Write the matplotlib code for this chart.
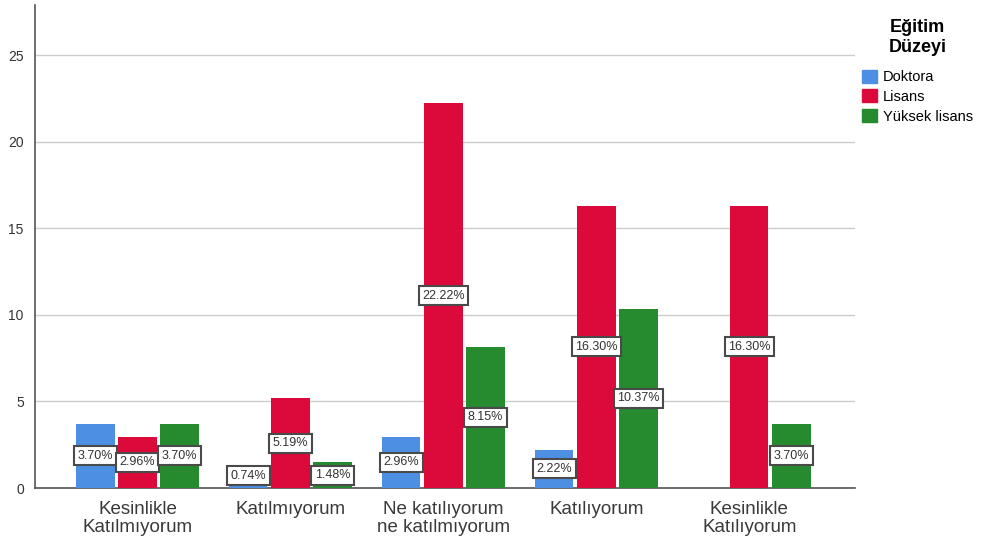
import numpy as np
import matplotlib.pyplot as plt
from matplotlib.patches import Patch

plt.rcParams['font.family'] = ['Liberation Sans', 'DejaVu Sans']

# ===== data =====
categories = ['Kesinlikle\nKatılmıyorum', 'Katılmıyorum', 'Ne katılıyorum\nne katılmıyorum',
              'Katılıyorum', 'Kesinlikle\nKatılıyorum']
series_names = ['Doktora', 'Lisans', 'Yüksek lisans']
doktora = [3.70, 0.74, 2.96, 2.22, 0.0]
lisans = [2.96, 5.19, 22.22, 16.30, 16.30]
yuksek = [3.70, 1.48, 8.15, 10.37, 3.70]
colors = ['#4C8FE3', '#DC0A3A', '#268A2E']

fig = plt.figure(figsize=(9.82, 5.39), dpi=100)
ax = fig.add_axes([0.0356, 0.0946, 0.835, 0.896])

x = np.arange(len(categories))
width = 0.25
offsets = [-0.275, 0.0, 0.275]
for vals, off, col in zip([doktora, lisans, yuksek], offsets, colors):
    ax.bar(x + off, vals, width, color=col, zorder=3)
    for xi, v in zip(x, vals):
        if v <= 0:
            continue
        ax.text(xi + off, max(v / 2, 0.72), '%.2f%%' % v, ha='center', va='center',
                fontsize=9, color='#333333', zorder=4,
                bbox=dict(boxstyle='square,pad=0.28', fc='white', ec='#4a4a4a', lw=1.5))

ax.set_xlim(-0.67, 4.69)
ax.set_ylim(0, 27.9)
ax.set_yticks([0, 5, 10, 15, 20, 25])
ax.yaxis.grid(True, color='#cccccc', lw=1, zorder=0)
ax.set_xticks(x)
ax.set_xticklabels(categories, fontsize=13.5, color='#3a3a3a', linespacing=1.15)
ax.tick_params(axis='both', length=0)
ax.tick_params(axis='y', labelsize=10, colors='#333333', pad=8)
ax.tick_params(axis='x', pad=9)
for s in ['top', 'right']:
    ax.spines[s].set_visible(False)
for s in ['left', 'bottom']:
    ax.spines[s].set_color('#555555')
    ax.spines[s].set_linewidth(1.2)

handles = [Patch(color=c, label=n) for c, n in zip(colors, series_names)]
leg = fig.legend(handles=handles, title='Eğitim\nDüzeyi', loc='upper left',
                 bbox_to_anchor=(0.872, 0.975), frameon=False, fontsize=10.5,
                 title_fontproperties={'weight': 'bold', 'size': 13},
                 handlelength=1.0, handleheight=1.0, handletextpad=0.4,
                 labelspacing=0.35, borderaxespad=0)
leg.get_title().set_multialignment('center')
leg._legend_box.sep = 10

fig.savefig('out.png', dpi=100)
